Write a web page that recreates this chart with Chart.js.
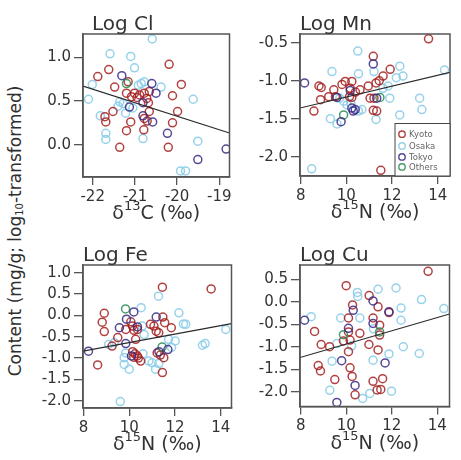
<!DOCTYPE html>
<html>
<head>
<meta charset="utf-8">
<script src="https://cdn.jsdelivr.net/npm/chart.js@4.4.1/dist/chart.umd.min.js"></script>
<style>
  html, body { margin: 0; padding: 0; background: #fff; }
  body { width: 461px; height: 460px; position: relative; overflow: hidden; font-family: "DejaVu Sans", sans-serif; }
  .panel { position: absolute; }
  #ytitle { position: absolute; left: 15px; top: 231px; transform: translate(-50%, -50%) rotate(-90deg);
            white-space: nowrap; font-size: 17px; color: #2e2e2e; }
  #ytitle sub { font-size: 10px; vertical-align: -2px; }
</style>
</head>
<body>
<div id="ytitle">Content (mg/g; log<sub>10</sub>-transformed)</div>
<div class="panel"><canvas id="cl"></canvas></div>
<div class="panel"><canvas id="mn"></canvas></div>
<div class="panel"><canvas id="fe"></canvas></div>
<div class="panel"><canvas id="cu"></canvas></div>
<script>
// groups
const groups = ['Kyoto', 'Osaka', 'Tokyo', 'Others'];

// tick labels
const c13Ticks = [-22, -21, -20, -19];
const n15Ticks = [8, 10, 12, 14];
const clTicks = [0.0, 0.5, 1.0];
const mnTicks = [-2.0, -1.5, -1.0, -0.5];
const feTicks = [-2.0, -1.5, -1.0, -0.5, 0.0, 0.5, 1.0];
const cuTicks = [-2.0, -1.5, -1.0, -0.5, 0.0, 0.5];

// Log Cl vs d13C  [x, y]
const clKyoto = [[-20.19,0.92],[-21.88,0.78],[-21.62,0.86],[-21.48,0.66],[-21.20,0.59],[-21.01,0.59],
  [-20.89,0.57],[-20.78,0.59],[-20.66,0.61],[-20.95,0.54],[-19.90,0.69],[-20.11,0.56],[-20.68,0.48],
  [-20.66,0.38],[-19.99,0.38],[-21.52,0.38],[-21.71,0.32],[-21.69,0.26],[-21.10,0.26],[-20.78,0.30],
  [-20.71,0.27],[-20.11,0.25],[-21.20,0.16],[-20.79,0.17],[-21.36,-0.03],[-20.21,-0.03],[-21.16,0.72],
  [-20.72,0.53],[-21.08,0.55]];
const clOsaka = [[-20.59,1.21],[-21.59,1.04],[-21.10,1.01],[-21.01,0.88],[-22.10,0.52],[-22.01,0.69],
  [-21.82,0.33],[-21.69,0.13],[-21.69,0.06],[-21.36,0.49],[-21.28,0.47],[-21.40,0.44],[-21.22,0.36],
  [-20.85,0.70],[-20.78,0.72],[-20.92,0.68],[-20.38,0.66],[-19.62,0.52],[-19.51,0.04],[-20.81,0.07],
  [-19.92,-0.30],[-19.80,-0.30],[-21.05,0.42]];
const clTokyo = [[-21.31,0.79],[-20.60,0.70],[-20.50,0.59],[-20.81,0.48],[-21.13,0.43],[-20.81,0.33],
  [-20.58,0.26],[-20.23,0.13],[-19.51,-0.17],[-18.84,-0.05]];
const clOthers = [[-21.20,0.70]];
const clFit = [[-22.23,0.67],[-18.76,0.134]];

// Log Mn vs d15N
const mnKyoto = [[13.60,-0.45],[11.18,-0.68],[11.92,-0.85],[11.61,-0.94],[11.44,-1.00],[11.30,-1.03],
  [10.96,-1.07],[11.04,-1.23],[11.21,-1.23],[11.18,-1.39],[11.33,-1.40],[11.51,-2.18],[8.80,-1.07],
  [8.90,-1.09],[8.58,-1.40],[8.87,-1.25],[9.23,-1.21],[9.45,-1.12],[9.52,-1.21],[9.81,-1.05],
  [9.95,-1.01],[10.24,-1.01],[10.17,-1.10],[10.14,-1.21],[10.24,-1.22],[10.60,-1.12],[10.40,-1.15]];
const mnOsaka = [[10.50,-0.61],[11.21,-0.88],[9.37,-0.88],[12.34,-0.81],[12.19,-0.96],[12.48,-0.94],
  [14.30,-0.86],[11.83,-1.07],[11.90,-1.23],[12.34,-1.45],[13.21,-1.23],[13.31,-1.38],[11.30,-1.51],
  [10.53,-1.40],[10.53,-0.91],[9.88,-1.27],[10.03,-1.32],[9.71,-1.23],[10.68,-1.38],[9.30,-1.50],
  [9.59,-1.57],[8.48,-2.16],[10.20,-1.30],[11.60,-1.10]];
const mnTokyo = [[11.18,-0.78],[8.17,-1.03],[11.33,-1.23],[10.17,-1.13],[9.59,-1.22],[10.24,-1.36],
  [10.39,-1.38],[9.77,-1.54],[10.30,-1.40]];
const mnOthers = [[9.88,-1.45],[11.47,-1.22]];
const mnFit = [[7.97,-1.36],[14.54,-0.89]];

// Log Fe vs d15N
const feKyoto = [[11.45,0.66],[13.58,0.62],[8.91,0.05],[8.82,-0.16],[8.91,-0.38],[11.47,-0.04],
  [11.55,-0.17],[11.84,-0.29],[10.07,-0.15],[10.14,-0.25],[9.85,-0.33],[10.21,-0.35],[10.36,-0.33],
  [10.93,-0.21],[11.08,-0.25],[11.18,-0.37],[11.29,-0.41],[9.50,-0.52],[10.28,-0.56],[9.25,-0.72],
  [10.15,-0.85],[10.25,-0.90],[10.35,-0.95],[10.20,-0.98],[10.50,-1.07],[11.22,-0.88],[11.36,-0.93],
  [11.51,-0.99],[8.62,-1.16],[11.45,-1.34],[10.40,-1.00]];
const feOsaka = [[11.28,0.45],[10.52,0.18],[12.17,0.06],[12.37,-0.20],[12.47,-0.21],[14.22,-0.33],
  [13.20,-0.70],[13.32,-0.66],[9.61,-2.02],[10.57,-0.25],[10.65,-0.45],[9.35,-0.64],[11.72,-0.56],
  [12.01,-0.60],[9.85,-0.88],[9.78,-0.99],[10.86,-1.07],[11.00,-1.11],[9.78,-1.15],[10.00,-1.26],
  [11.15,-1.26],[11.29,-1.13],[10.60,-0.90],[11.85,-0.75],[9.10,-0.68]];
const feTokyo = [[10.20,0.08],[11.18,-0.04],[9.88,-0.09],[9.57,-0.29],[10.36,-0.27],[9.85,-0.66],
  [8.22,-0.84],[11.69,-0.80],[10.10,-0.95],[11.30,-0.85]];
const feOthers = [[9.84,0.15],[11.44,-0.74]];
const feFit = [[7.98,-0.84],[14.47,-0.195]];

// Log Cu vs d15N
const cuKyoto = [[13.60,0.68],[10.00,0.36],[11.01,0.14],[11.40,-0.11],[10.28,-0.07],[11.88,-0.24],
  [10.10,-0.36],[11.18,-0.36],[11.47,-0.52],[10.10,-0.67],[11.47,-0.74],[10.60,-0.70],[8.61,-0.66],
  [9.88,-0.87],[10.17,-0.85],[11.00,-0.95],[8.90,-0.95],[9.27,-1.00],[11.40,-1.07],[10.10,-1.11],
  [8.77,-1.42],[8.87,-1.54],[10.17,-1.47],[10.26,-1.66],[9.50,-1.73],[11.18,-1.77],[11.60,-1.71],
  [11.36,-1.96],[11.52,-1.95],[10.39,-2.07]];
const cuOsaka = [[10.49,0.21],[10.51,0.12],[11.40,0.28],[12.19,0.31],[13.31,0.05],[14.29,-0.15],
  [12.41,-0.14],[12.41,-0.41],[8.46,-0.33],[9.76,-0.36],[10.60,-0.36],[10.24,-0.98],[9.59,-0.93],
  [12.51,-1.00],[13.21,-1.15],[11.88,-1.16],[9.38,-1.32],[11.18,-1.30],[9.28,-1.97],[11.04,-2.04],
  [11.99,-1.99],[10.72,-2.15],[11.20,-0.60]];
const cuTokyo = [[8.17,-0.41],[11.18,0.02],[10.31,-0.19],[11.18,-0.48],[10.10,-0.59],[9.80,-1.31],
  [11.71,-1.36],[10.39,-1.86],[9.59,-2.24],[11.88,-0.22]];
const cuOthers = [[9.88,-0.73],[11.47,-0.67]];
const cuFit = [[7.97,-1.24],[14.54,-0.27]];

const FONT = '"DejaVu Sans", sans-serif';
const colors = {
  Kyoto: 'rgba(165,32,32,0.85)',
  Osaka: 'rgba(140,205,232,0.9)',
  Tokyo: 'rgba(55,40,130,0.85)',
  Others: 'rgba(40,140,80,0.85)'
};
const drawOrder = { Kyoto: 2, Osaka: 3, Tokyo: 1, Others: 1 };

const toXY = arr => arr.map(p => ({ x: p[0], y: p[1] }));

const deco = {
  id: 'deco',
  afterDraw(chart, args, o) {
    const { ctx, chartArea: a } = chart;
    ctx.save();
    ctx.strokeStyle = '#555';
    ctx.lineWidth = 1.5;
    ctx.strokeRect(a.left, a.top, a.right - a.left, a.bottom - a.top);

    ctx.fillStyle = '#333';
    ctx.textBaseline = 'alphabetic';
    ctx.textAlign = 'left';
    ctx.font = '20px ' + FONT;
    ctx.fillText(o.title, a.left + o.titleDx, a.top - 4);

    // x title with superscript
    const main = '19px ' + FONT, sup = '13px ' + FONT;
    ctx.font = main; const w1 = ctx.measureText('δ').width;
    const w3 = ctx.measureText(o.xRest).width;
    ctx.font = sup; const w2 = ctx.measureText(o.xSup).width;
    let x = (a.left + a.right) / 2 - (w1 + w2 + w3) / 2;
    const base = a.bottom + 42;
    ctx.font = main; ctx.fillText('δ', x, base); x += w1;
    ctx.font = sup; ctx.fillText(o.xSup, x, base - 9); x += w2;
    ctx.font = main; ctx.fillText(o.xRest, x, base);

    if (o.legend) {
      const lw = 55, lh = 52.5;
      const lx = a.right - lw, ly = a.bottom - lh;
      ctx.fillStyle = '#fff';
      ctx.fillRect(lx, ly, lw, lh);
      ctx.strokeStyle = '#444';
      ctx.lineWidth = 1;
      ctx.strokeRect(lx, ly, lw, lh);
      const rows = [10.7, 22.4, 33.4, 43.4];
      ctx.font = '8.5px ' + FONT;
      ctx.textBaseline = 'middle';
      groups.forEach((g, i) => {
        ctx.beginPath();
        ctx.arc(lx + 7, ly + rows[i], 3.2, 0, Math.PI * 2);
        ctx.strokeStyle = colors[g];
        ctx.lineWidth = 1.4;
        ctx.stroke();
        ctx.fillStyle = '#666';
        ctx.fillText(g, lx + 14, ly + rows[i] + 0.5);
      });
    }
    ctx.restore();
  }
};

function makePanel(id, box, cfg) {
  const canvas = document.getElementById(id);
  const wrap = canvas.parentNode;
  const padL = 60, padT = 34, padR = 4, padB = 52;
  wrap.style.left = (box.l - padL) + 'px';
  wrap.style.top = (box.t - padT) + 'px';
  wrap.style.width = (box.r - box.l + padL + padR) + 'px';
  wrap.style.height = (box.b - box.t + padT + padB) + 'px';

  const datasets = groups.map(g => ({
    label: g,
    data: toXY(cfg.series[g]),
    borderColor: colors[g],
    backgroundColor: 'rgba(0,0,0,0)',
    pointRadius: 4,
    pointBorderWidth: 1.5,
    pointHoverRadius: 4,
    order: drawOrder[g]
  }));
  datasets.push({
    label: 'fit',
    data: toXY(cfg.fit),
    showLine: true,
    pointRadius: 0,
    borderColor: '#2a2a2a',
    borderWidth: 1.2,
    order: 0
  });

  const tickFont = { family: FONT, size: 15 };
  new Chart(canvas.getContext('2d'), {
    type: 'scatter',
    data: { datasets },
    options: {
      responsive: true,
      maintainAspectRatio: false,
      animation: false,
      events: [],
      layout: { padding: { left: 0, top: padT, right: padR, bottom: 0 } },
      plugins: {
        legend: { display: false },
        tooltip: { enabled: false },
        deco: { title: cfg.title, titleDx: cfg.titleDx || 0, xSup: cfg.xSup, xRest: cfg.xRest, legend: !!cfg.legend }
      },
      scales: {
        x: {
          type: 'linear', min: cfg.xr[0], max: cfg.xr[1],
          afterFit: s => { s.height = padB; },
          afterBuildTicks: s => { s.ticks = cfg.xTicks.map(v => ({ value: v })); },
          grid: { drawOnChartArea: false, drawTicks: true, tickLength: 8, color: '#555', lineWidth: 1.3 },
          border: { display: true, color: '#555', width: 1.5 },
          ticks: { color: '#333', font: tickFont, padding: 3, maxRotation: 0, autoSkip: false,
                   callback: v => String(v) }
        },
        y: {
          type: 'linear', min: cfg.yr[0], max: cfg.yr[1],
          afterFit: s => { s.width = padL; },
          afterBuildTicks: s => { s.ticks = cfg.yTicks.map(v => ({ value: v })); },
          grid: { drawOnChartArea: false, drawTicks: true, tickLength: 9, color: '#555', lineWidth: 1.3 },
          border: { display: true, color: '#555', width: 1.5 },
          ticks: { color: '#333', font: tickFont, padding: 3, autoSkip: false,
                   callback: v => v.toFixed(1) }
        }
      }
    },
    plugins: [deco]
  });
}

makePanel('cl', { l: 83, t: 34, r: 231, b: 177 }, {
  title: 'Log Cl', titleDx: 9, xSup: '13', xRest: 'C (‰)',
  xr: [-22.23, -18.76], yr: [-0.37, 1.267], xTicks: c13Ticks, yTicks: clTicks,
  series: { Kyoto: clKyoto, Osaka: clOsaka, Tokyo: clTokyo, Others: clOthers }, fit: clFit
});
makePanel('mn', { l: 299.5, t: 34, r: 451, b: 176 }, {
  title: 'Log Mn', xSup: '15', xRest: 'N (‰)', legend: true,
  xr: [7.97, 14.54], yr: [-2.254, -0.386], xTicks: n15Ticks, yTicks: mnTicks,
  series: { Kyoto: mnKyoto, Osaka: mnOsaka, Tokyo: mnTokyo, Others: mnOthers }, fit: mnFit
});
makePanel('fe', { l: 83, t: 264.5, r: 233, b: 407.5 }, {
  title: 'Log Fe', xSup: '15', xRest: 'N (‰)',
  xr: [7.98, 14.47], yr: [-2.17, 1.18], xTicks: n15Ticks, yTicks: feTicks,
  series: { Kyoto: feKyoto, Osaka: feOsaka, Tokyo: feTokyo, Others: feOthers }, fit: feFit
});
makePanel('cu', { l: 300, t: 264.5, r: 451, b: 406 }, {
  title: 'Log Cu', xSup: '15', xRest: 'N (‰)',
  xr: [7.97, 14.54], yr: [-2.33, 0.82], xTicks: n15Ticks, yTicks: cuTicks,
  series: { Kyoto: cuKyoto, Osaka: cuOsaka, Tokyo: cuTokyo, Others: cuOthers }, fit: cuFit
});
</script>
</body>
</html>
